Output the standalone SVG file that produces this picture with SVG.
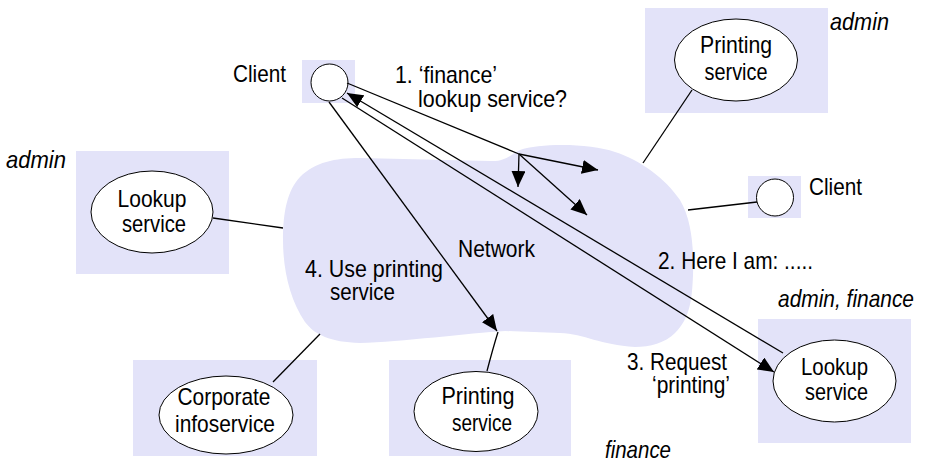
<svg xmlns="http://www.w3.org/2000/svg" width="927" height="465" viewBox="0 0 927 465">
<defs>
<style>
.bg{fill:#e3e3f9;stroke:none}
.node{fill:#ffffff;stroke:#000;stroke-width:1}
.ln{fill:none;stroke:#000;stroke-width:1.3}
.t{font-family:"Liberation Sans",Arial,sans-serif;font-size:24px;fill:#000}
.c{text-anchor:middle}
.i{font-style:italic}
</style>
<marker id="ah" viewBox="0 0 16 14" refX="16" refY="7" markerWidth="16" markerHeight="14" markerUnits="userSpaceOnUse" orient="auto">
<path d="M0,0 L16,7 L0,14 z" fill="#000"/>
</marker>
</defs>
<rect width="927" height="465" fill="#fff"/>

<g id="network">
<path class="bg" d="M300,177 C315,162 335,158 360,158 L490,161 C505,162 510,155 520,150 C540,143 590,143 615,152 C640,160 665,178 680,200 C692,220 694,250 693,275 C692,300 690,318 675,333 C665,343 650,347 635,347 C600,345 585,334 560,333 L505,331 C470,333 400,342 360,343 C330,342 315,335 305,322 C290,300 283,270 283,240 C283,210 288,190 300,177 Z"/>
<text class="t" x="458" y="257" textLength="77" lengthAdjust="spacingAndGlyphs">Network</text>
</g>

<g id="client-top">
<rect class="bg" x="302" y="60" width="53" height="43"/>
<circle class="node" cx="329.5" cy="82.5" r="18.5"/>
<text class="t" x="233" y="82" textLength="53" lengthAdjust="spacingAndGlyphs">Client</text>
</g>

<g id="printing-admin">
<rect class="bg" x="645" y="8" width="183" height="105"/>
<ellipse class="node" cx="736" cy="60" rx="61.5" ry="41"/>
<text class="t c" x="736" y="53" textLength="72" lengthAdjust="spacingAndGlyphs">Printing</text>
<text class="t c" x="736" y="80" textLength="63" lengthAdjust="spacingAndGlyphs">service</text>
<text class="t i" x="830" y="30" textLength="59" lengthAdjust="spacingAndGlyphs">admin</text>
</g>

<g id="client-right">
<rect class="bg" x="748" y="176" width="53" height="42"/>
<circle class="node" cx="775" cy="197.5" r="18.5"/>
<text class="t" x="809" y="195" textLength="53" lengthAdjust="spacingAndGlyphs">Client</text>
</g>

<g id="lookup-admin">
<rect class="bg" x="76" y="151" width="153" height="123"/>
<ellipse class="node" cx="152" cy="212" rx="61" ry="41"/>
<text class="t c" x="152" y="207" textLength="69" lengthAdjust="spacingAndGlyphs">Lookup</text>
<text class="t c" x="154" y="232" textLength="64" lengthAdjust="spacingAndGlyphs">service</text>
<text class="t i" x="6" y="168" textLength="60" lengthAdjust="spacingAndGlyphs">admin</text>
</g>

<g id="corporate">
<rect class="bg" x="133" y="360" width="184" height="96"/>
<ellipse class="node" cx="226" cy="415" rx="67" ry="39"/>
<text class="t c" x="224" y="405" textLength="93" lengthAdjust="spacingAndGlyphs">Corporate</text>
<text class="t c" x="225" y="432" textLength="100" lengthAdjust="spacingAndGlyphs">infoservice</text>
</g>

<g id="printing-finance">
<rect class="bg" x="389" y="360" width="182" height="96"/>
<ellipse class="node" cx="476" cy="411.5" rx="62" ry="40"/>
<text class="t c" x="478" y="404" textLength="73" lengthAdjust="spacingAndGlyphs">Printing</text>
<text class="t c" x="482" y="431" textLength="60" lengthAdjust="spacingAndGlyphs">service</text>
<text class="t i" x="605" y="458" textLength="66" lengthAdjust="spacingAndGlyphs">finance</text>
</g>

<g id="lookup-finance">
<rect class="bg" x="758" y="319" width="153" height="124"/>
<ellipse class="node" cx="834.5" cy="381" rx="61.5" ry="41"/>
<text class="t c" x="834.5" y="375" textLength="67" lengthAdjust="spacingAndGlyphs">Lookup</text>
<text class="t c" x="836.5" y="400" textLength="63" lengthAdjust="spacingAndGlyphs">service</text>
<text class="t i" x="778" y="307" textLength="136" lengthAdjust="spacingAndGlyphs">admin, finance</text>
</g>

<g id="connectors">
<line class="ln" x1="692" y1="90" x2="643" y2="163"/>
<line class="ln" x1="688" y1="210" x2="757" y2="202"/>
<line class="ln" x1="213" y1="218" x2="283" y2="228"/>
<line class="ln" x1="273" y1="382" x2="320" y2="334"/>
<path class="ln" d="M498,332 Q493,348 487,371"/>
<line class="ln" x1="347" y1="83" x2="519" y2="154"/>
<line class="ln" x1="519" y1="154" x2="518" y2="187" marker-end="url(#ah)"/>
<line class="ln" x1="519" y1="154" x2="598" y2="170" marker-end="url(#ah)"/>
<line class="ln" x1="519" y1="154" x2="587" y2="215" marker-end="url(#ah)"/>
<line class="ln" x1="783" y1="353" x2="347" y2="93" marker-end="url(#ah)"/>
<line class="ln" x1="342" y1="98" x2="774" y2="372" marker-end="url(#ah)"/>
<line class="ln" x1="329" y1="102" x2="497" y2="331" marker-end="url(#ah)"/>
</g>

<g id="labels">
<text class="t" x="395" y="83" textLength="102" lengthAdjust="spacingAndGlyphs">1. ‘finance’</text>
<text class="t" x="418" y="107" textLength="149" lengthAdjust="spacingAndGlyphs">lookup service?</text>
<text class="t" x="658" y="269" textLength="155" lengthAdjust="spacingAndGlyphs">2. Here I am: .....</text>
<text class="t" x="627" y="370" textLength="100" lengthAdjust="spacingAndGlyphs">3. Request</text>
<text class="t" x="652" y="393" textLength="78" lengthAdjust="spacingAndGlyphs">‘printing’</text>
<text class="t" x="305" y="277" textLength="138" lengthAdjust="spacingAndGlyphs">4. Use printing</text>
<text class="t" x="330" y="300" textLength="65" lengthAdjust="spacingAndGlyphs">service</text>
</g>
</svg>
